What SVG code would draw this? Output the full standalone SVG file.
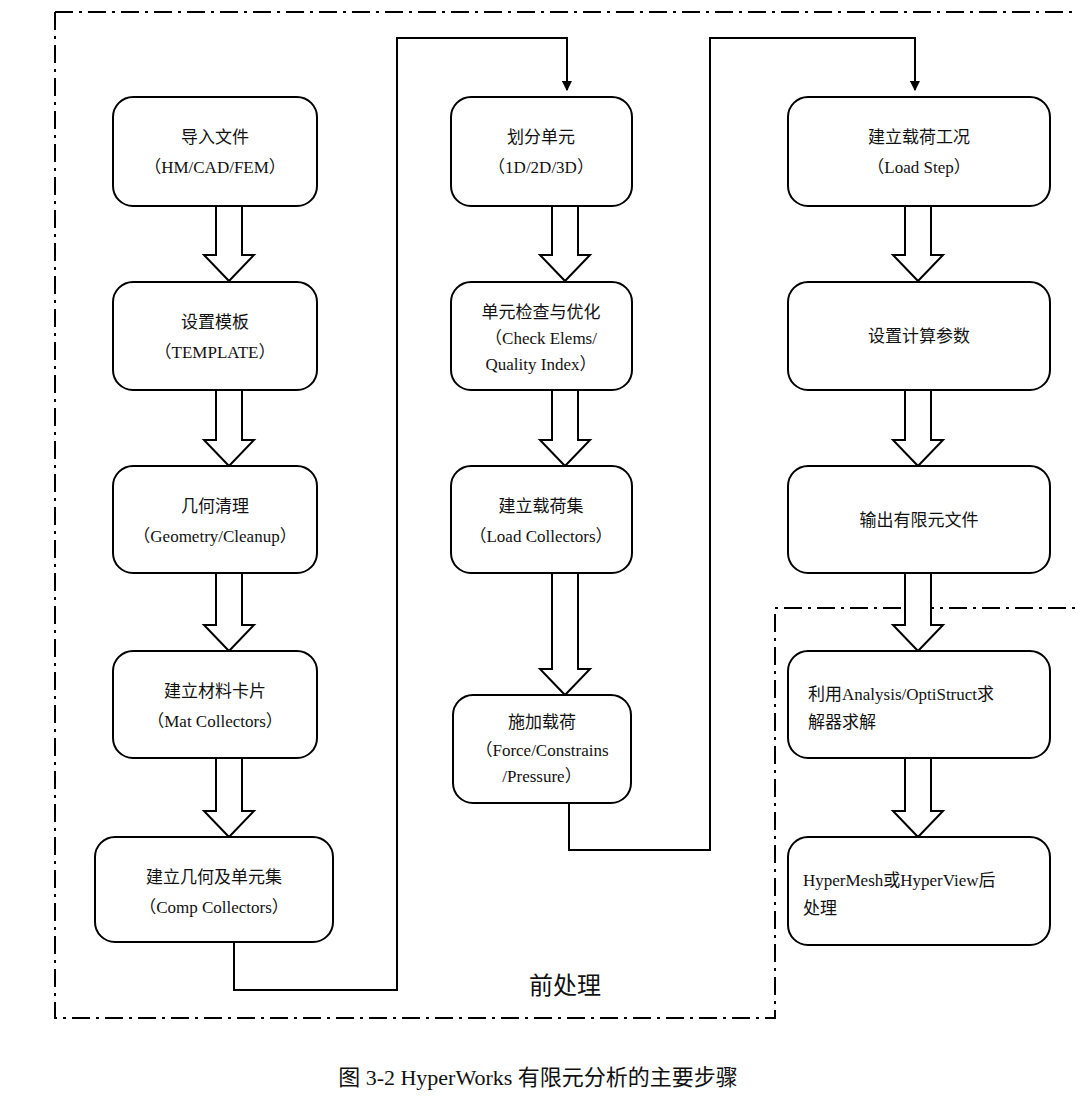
<svg xmlns="http://www.w3.org/2000/svg" width="1076" height="1110" viewBox="0 0 1076 1110">
<style>
.b{fill:#fff;stroke:#000;stroke-width:2}
.t{font-family:"Liberation Serif","Noto Sans CJK SC",serif;font-size:17px;text-anchor:middle;fill:#111}
.s{text-anchor:start}
.c{fill:none;stroke:#000;stroke-width:2}
.d{fill:none;stroke:#000;stroke-width:2;stroke-dasharray:18 6 3 6}
.h{fill:#fff;stroke:#000;stroke-width:2;stroke-linejoin:miter}
</style>
<defs>
<marker id="ah" markerWidth="10" markerHeight="10" refX="9" refY="5" orient="auto" markerUnits="userSpaceOnUse"><path d="M0,0 L10,5 L0,10 z" fill="#000" transform="scale(1.2) translate(-1.5,-0.8)"/></marker>
</defs>
<rect width="1076" height="1110" fill="#fff"/>
<g id="border">
<path class="d" d="M55,12 H1076 M55,12 V1018 H775 V608 H1076"/>
<text class="t" x="565" y="994" style="font-size:24px">前处理</text>
</g>
<g id="connectors">
<path class="c" d="M234,942 V990 H397 V38 H567 V90" marker-end="url(#ah)"/>
<path class="c" d="M569,803 V850 H710 V38 H915 V90" marker-end="url(#ah)"/>
<path class="h" d="M216,206 V255 H204 L229,281 L254,255 H242 V206"/>
<path class="h" d="M216,390 V440 H204 L229,466 L254,440 H242 V390"/>
<path class="h" d="M216,573 V625 H204 L229,651 L254,625 H242 V573"/>
<path class="h" d="M216,758 V811 H204 L229,837 L254,811 H242 V758"/>
<path class="h" d="M552,206 V255 H540 L565,281 L590,255 H578 V206"/>
<path class="h" d="M552,390 V440 H540 L565,466 L590,440 H578 V390"/>
<path class="h" d="M552,573 V669 H540 L565,695 L590,669 H578 V573"/>
<path class="h" d="M905,206 V255 H893 L918,281 L943,255 H931 V206"/>
<path class="h" d="M905,390 V440 H893 L918,466 L943,440 H931 V390"/>
<path class="h" d="M905,573 V625 H893 L918,651 L943,625 H931 V573"/>
<path class="h" d="M905,758 V811 H893 L918,837 L943,811 H931 V758"/>
</g>
<g id="n1"><rect class="b" x="113" y="97" width="204" height="109" rx="20"/><text class="t" x="215" y="143">导入文件</text><text class="t" x="215" y="173">（HM/CAD/FEM）</text></g>
<g id="n2"><rect class="b" x="113" y="282" width="204" height="108" rx="20"/><text class="t" x="215" y="328">设置模板</text><text class="t" x="215" y="358">（TEMPLATE）</text></g>
<g id="n3"><rect class="b" x="113" y="466" width="204" height="107" rx="20"/><text class="t" x="215" y="512">几何清理</text><text class="t" x="215" y="542">（Geometry/Cleanup）</text></g>
<g id="n4"><rect class="b" x="113" y="651" width="204" height="107" rx="20"/><text class="t" x="215" y="697">建立材料卡片</text><text class="t" x="215" y="727">（Mat Collectors）</text></g>
<g id="n5"><rect class="b" x="95" y="837" width="238" height="105" rx="20"/><text class="t" x="214" y="883">建立几何及单元集</text><text class="t" x="214" y="913">（Comp Collectors）</text></g>
<g id="n6"><rect class="b" x="451" y="97" width="181" height="109" rx="20"/><text class="t" x="541" y="143">划分单元</text><text class="t" x="541" y="173">（1D/2D/3D）</text></g>
<g id="n7"><rect class="b" x="451" y="282" width="181" height="108" rx="20"/><text class="t" x="541" y="318">单元检查与优化</text><text class="t" x="541" y="344">（Check Elems/</text><text class="t" x="541" y="370">Quality Index）</text></g>
<g id="n8"><rect class="b" x="451" y="466" width="181" height="107" rx="20"/><text class="t" x="541" y="512">建立载荷集</text><text class="t" x="541" y="542">（Load Collectors）</text></g>
<g id="n9"><rect class="b" x="453" y="695" width="178" height="108" rx="20"/><text class="t" x="542" y="728">施加载荷</text><text class="t" x="542" y="756">（Force/Constrains</text><text class="t" x="542" y="782">/Pressure）</text></g>
<g id="n10"><rect class="b" x="788" y="97" width="262" height="109" rx="20"/><text class="t" x="919" y="143">建立载荷工况</text><text class="t" x="919" y="173">（Load Step）</text></g>
<g id="n11"><rect class="b" x="788" y="282" width="262" height="108" rx="20"/><text class="t" x="919" y="342">设置计算参数</text></g>
<g id="n12"><rect class="b" x="788" y="466" width="262" height="107" rx="20"/><text class="t" x="919" y="526">输出有限元文件</text></g>
<g id="n13"><rect class="b" x="788" y="651" width="262" height="107" rx="20"/><text class="t s" x="808" y="700">利用Analysis/OptiStruct求</text><text class="t s" x="808" y="728">解器求解</text></g>
<g id="n14"><rect class="b" x="788" y="837" width="262" height="108" rx="20"/><text class="t s" x="803" y="886">HyperMesh或HyperView后</text><text class="t s" x="803" y="914">处理</text></g>
<g id="caption"><text class="t" x="538" y="1085" style="font-size:22px">图 3-2 HyperWorks 有限元分析的主要步骤</text></g>
</svg>
